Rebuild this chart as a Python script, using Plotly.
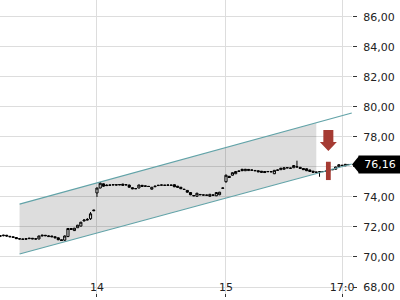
import pandas as pd
import plotly.graph_objects as go

# ---------------- data ----------------
day13_open = [71.38, 71.42, 71.45, 71.38, 71.35, 71.30, 71.22, 71.20, 71.18, 71.22,
              71.25, 71.21, 71.20, 71.40, 71.45, 71.36, 71.40, 71.35, 71.28, 71.15,
              71.12, 71.36, 71.90, 71.76, 71.95, 72.06, 72.40, 72.46, 72.55, 73.08]
day13_high = [71.45, 71.48, 71.47, 71.40, 71.37, 71.32, 71.24, 71.22, 71.24, 71.27,
              71.26, 71.23, 71.42, 71.48, 71.46, 71.43, 71.41, 71.36, 71.29, 71.17,
              71.44, 71.93, 71.93, 71.94, 72.14, 72.34, 72.52, 72.60, 73.00, 73.15]
day13_low = [71.33, 71.38, 71.36, 71.32, 71.27, 71.20, 71.17, 71.15, 71.16, 71.20,
             71.19, 71.16, 71.18, 71.38, 71.39, 71.34, 71.33, 71.26, 71.12, 71.08,
             71.07, 71.33, 71.80, 71.74, 71.94, 72.04, 72.38, 72.44, 72.47, 73.06]
day13_close = [71.42, 71.45, 71.40, 71.35, 71.30, 71.22, 71.20, 71.18, 71.22, 71.25,
               71.21, 71.20, 71.40, 71.45, 71.42, 71.40, 71.35, 71.28, 71.15, 71.10,
               71.40, 71.90, 71.84, 71.92, 72.12, 72.32, 72.46, 72.50, 72.88, 73.12]

day14_open = [74.27, 74.60, 74.88, 74.80, 74.78, 74.80, 74.82, 74.80, 74.86, 74.80,
              74.80, 74.62, 74.55, 74.60, 74.70, 74.74, 74.71, 74.52, 74.68, 74.76,
              74.79, 74.79, 74.78, 74.80, 74.82, 74.72, 74.65, 74.52, 74.44, 74.30,
              74.10, 74.05, 74.17, 74.14, 74.13, 74.05, 74.14, 74.08, 74.15, 74.58]
day14_high = [74.62, 75.00, 74.90, 74.84, 74.82, 74.84, 74.83, 74.84, 74.88, 74.84,
              74.82, 74.64, 74.57, 74.82, 74.80, 74.76, 74.73, 74.66, 74.74, 74.80,
              74.82, 74.80, 74.82, 74.81, 74.84, 74.74, 74.67, 74.54, 74.46, 74.32,
              74.12, 74.28, 74.19, 74.16, 74.14, 74.20, 74.16, 74.32, 74.34, 74.62]
day14_low = [74.00, 74.58, 74.68, 74.74, 74.77, 74.79, 74.78, 74.79, 74.76, 74.79,
             74.63, 74.52, 74.53, 74.58, 74.68, 74.70, 74.68, 74.50, 74.67, 74.75,
             74.78, 74.76, 74.77, 74.76, 74.66, 74.63, 74.53, 74.48, 74.30, 74.12,
             74.06, 74.02, 74.13, 74.11, 74.10, 74.02, 74.10, 74.06, 74.12, 74.57]
day14_close = [74.60, 74.92, 74.72, 74.76, 74.80, 74.82, 74.80, 74.83, 74.78, 74.82,
               74.65, 74.55, 74.56, 74.80, 74.78, 74.72, 74.70, 74.65, 74.72, 74.78,
               74.80, 74.78, 74.80, 74.78, 74.68, 74.65, 74.55, 74.50, 74.32, 74.15,
               74.08, 74.25, 74.15, 74.13, 74.12, 74.18, 74.12, 74.30, 74.32, 74.60]

day15_open = [75.02, 75.38, 75.45, 75.55, 75.70, 75.85, 75.75, 75.76, 75.80, 75.77,
              75.75, 75.72, 75.70, 75.68, 75.69, 75.55, 75.78, 75.82, 75.85, 75.94,
              75.93, 75.95, 76.02, 75.98, 75.90, 75.88, 75.80, 75.72, 75.66, 75.67,
              75.69, 75.71, 75.74, 75.84, 75.85, 76.02, 76.12, 76.08, 76.17]
day15_high = [75.50, 75.40, 75.64, 75.72, 75.76, 75.87, 75.87, 75.86, 75.82, 75.78,
              75.77, 75.73, 75.71, 75.72, 75.70, 75.80, 75.82, 75.94, 75.97, 75.97,
              75.95, 76.12, 76.42, 76.00, 75.92, 75.90, 75.82, 75.74, 75.67, 75.72,
              75.71, 75.74, 75.77, 75.86, 76.02, 76.18, 76.14, 76.20, 76.19]
day15_low = [74.95, 75.28, 75.43, 75.53, 75.69, 75.73, 75.73, 75.74, 75.77, 75.73,
             75.66, 75.63, 75.61, 75.67, 75.66, 75.53, 75.77, 75.80, 75.84, 75.93,
             75.90, 75.93, 75.98, 75.88, 75.80, 75.73, 75.68, 75.63, 75.64, 75.35,
             75.68, 75.70, 75.72, 75.80, 75.83, 76.00, 76.08, 76.06, 76.14]
day15_close = [75.45, 75.30, 75.62, 75.70, 75.73, 75.75, 75.85, 75.84, 75.79, 75.75,
               75.68, 75.65, 75.63, 75.70, 75.68, 75.78, 75.80, 75.92, 75.95, 75.95,
               75.92, 76.10, 76.00, 75.90, 75.82, 75.75, 75.70, 75.65, 75.65, 75.68,
               75.70, 75.72, 75.75, 75.82, 76.00, 76.15, 76.10, 76.18, 76.16]

# 15-minute candle start times per session (trading hours 08:00-18:00)
day13_times = pd.date_range("2024-03-13 10:30", periods=len(day13_close), freq="15min")
day14_times = pd.date_range("2024-03-14 08:00", periods=len(day14_close), freq="15min")
day15_times = pd.date_range("2024-03-15 08:00", periods=len(day15_close), freq="15min")

# trend channel
channel_times = ["2024-03-13 12:00", "2024-03-15 15:00", "2024-03-15 17:45"]
channel_upper = [73.53, 78.95, 79.60]
channel_lower = [70.20, 75.57, 76.20]

# sell signal
signal_time = "2024-03-15 15:56"
signal_arrow_top = 78.47
signal_bar_low = 75.13
signal_bar_high = 76.35

last_price = 76.16
last_price_text = "76,16"

y_ticks = [68, 70, 72, 74, 76, 78, 80, 82, 84, 86]
y_tick_hidden = 76  # covered by the last-price callout
x_tick_times = ["2024-03-14 08:00", "2024-03-15 08:00", "2024-03-15 17:00"]
x_tick_text = ["14", "15", "17:0"]

# ---------------- figure ----------------
times = list(day13_times) + list(day14_times) + list(day15_times)
opens = day13_open + day14_open + day15_open
highs = day13_high + day14_high + day15_high
lows = day13_low + day14_low + day15_low
closes = day13_close + day14_close + day15_close

y_tick_text = ["" if v == y_tick_hidden else f"{v:.2f}".replace(".", ",") for v in y_ticks]

fig = go.Figure()

# channel fill (only up to the second channel point)
fig.add_trace(go.Scatter(
    x=[channel_times[0], channel_times[1], channel_times[1], channel_times[0]],
    y=[channel_upper[0], channel_upper[1], channel_lower[1], channel_lower[0]],
    fill="toself", fillcolor="rgba(0,0,0,0.135)", mode="lines",
    line=dict(width=0), hoverinfo="skip", showlegend=False))

for ys in (channel_upper, channel_lower):
    fig.add_trace(go.Scatter(
        x=channel_times, y=ys, mode="lines",
        line=dict(color="#62a3a8", width=1.2), hoverinfo="skip", showlegend=False))

fig.add_trace(go.Candlestick(
    x=times, open=opens, high=highs, low=lows, close=closes,
    increasing=dict(fillcolor="#ffffff", line=dict(color="#000000", width=1)),
    decreasing=dict(fillcolor="#000000", line=dict(color="#000000", width=1)),
    whiskerwidth=0, showlegend=False, hoverinfo="skip"))

red = "#a53b33"
# red bar
fig.add_shape(type="rect", xref="x", yref="y", xsizemode="pixel", xanchor=signal_time,
              x0=-2.4, x1=2.4, y0=signal_bar_low, y1=signal_bar_high,
              fillcolor=red, line=dict(width=0), layer="above")
# arrow
fig.add_shape(type="path", xref="x", yref="y", xsizemode="pixel", ysizemode="pixel",
              xanchor=signal_time, yanchor=signal_arrow_top,
              path="M -5,0 L 5,0 L 5,-12 L 8.5,-12 L 0,-21 L -8.5,-12 L -5,-12 Z",
              fillcolor=red, line=dict(width=0), layer="above")

# last price callout
fig.add_shape(type="path", xref="paper", yref="y", xsizemode="pixel", ysizemode="pixel",
              xanchor=1, yanchor=last_price,
              path="M 0,0 L 7,8.5 L 8,8.5 L 8,-8.5 L 7,-8.5 Z",
              fillcolor="#000000", line=dict(width=0), layer="above")
fig.add_annotation(x=1, xref="paper", y=last_price, yref="y", xanchor="left",
                   xshift=6, text=last_price_text, showarrow=False,
                   bgcolor="#000000", width=40, height=15, borderpad=1,
                   font=dict(family="DejaVu Sans", size=11, color="#ffffff"))

fig.update_layout(
    width=400, height=300,
    margin=dict(l=0, r=48, t=0, b=3),
    paper_bgcolor="#ffffff", plot_bgcolor="#ffffff",
    separators=",.",
    showlegend=False,
    boxgap=0.05,
    font=dict(family="DejaVu Sans", size=11, color="#222222"),
    xaxis=dict(
        type="date",
        rangebreaks=[dict(bounds=[18, 8], pattern="hour")],
        range=["2024-03-13 10:29", "2024-03-15 17:46"],
        tickvals=x_tick_times, ticktext=x_tick_text,
        ticks="inside", ticklen=3, tickcolor="#333333",
        ticklabelposition="inside", ticklabeloverflow="allow",
        showgrid=True, gridcolor="#dddddd", gridwidth=1,
        zeroline=False, showline=False,
        rangeslider=dict(visible=False),
        tickfont=dict(family="DejaVu Sans", size=11, color="#222222"),
    ),
    yaxis=dict(
        side="right", range=[67.333, 87.133],
        tickvals=y_ticks, ticktext=y_tick_text,
        ticks="outside", ticklen=4, tickcolor="#333333",
        ticklabelstandoff=4,
        showgrid=True, gridcolor="#dddddd", gridwidth=1,
        zeroline=False, showline=False,
        tickfont=dict(family="DejaVu Sans", size=11, color="#222222"),
    ),
)

fig.write_html("out.html")
